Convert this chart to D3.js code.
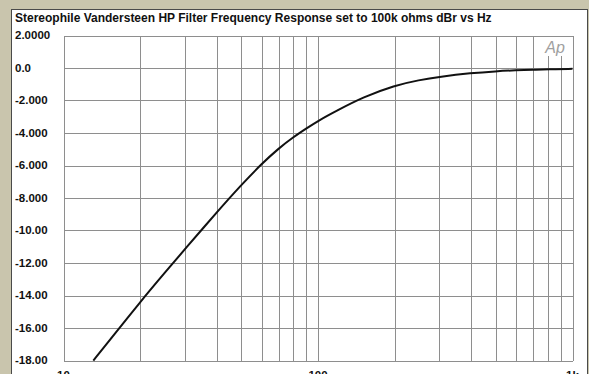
<!DOCTYPE html>
<html>
<head>
<style>
  body { margin: 0; background: #c9c5ad; }
  svg { display: block; font-family: "Liberation Sans", Arial, sans-serif; }
  .grid line { stroke: #8e8e8e; stroke-width: 1px; shape-rendering: crispEdges; }
  .lbl { font-size: 11.5px; font-weight: bold; fill: #111; }
</style>
</head>
<body>
<div id="chart"></div>
<script src="https://d3js.org/d3.v7.min.js"></script>
<script>
// frequency response (Hz, dBr)
var freqs = [13.1, 15, 20, 25, 30, 40, 50, 60, 70, 80, 90, 100, 120, 150, 200, 250, 300, 400, 500, 600, 700, 800, 1000];
var dbr = [-18.0, -16.85, -14.4, -12.6, -11.15, -8.88, -7.19, -5.9, -4.95, -4.25, -3.72, -3.25, -2.58, -1.8, -1.07, -0.74, -0.54, -0.31, -0.2, -0.14, -0.11, -0.08, -0.05];

var yTicks = [2, 0, -2, -4, -6, -8, -10, -12, -14, -16, -18];
var yTickLabels = ["2.0000", "0.0", "-2.000", "-4.000", "-6.000", "-8.000", "-10.00", "-12.00", "-14.00", "-16.00", "-18.00"];
var xGrid = [10, 20, 30, 40, 50, 60, 70, 80, 90, 100, 200, 300, 400, 500, 600, 700, 800, 900, 1000];
var xTicks = [10, 100, 1000];
var xTickLabels = ["10", "100", "1k"];

var W = 589, H = 374;
var svg = d3.select("#chart").append("svg").attr("width", W).attr("height", H);

// white panel
svg.append("rect")
  .attr("x", 11.5).attr("y", 9.5)
  .attr("width", 576).attr("height", H)
  .attr("fill", "#fff").attr("stroke", "#4a4a4a").attr("stroke-width", 1);

svg.append("text")
  .attr("x", 15).attr("y", 22)
  .style("font-size", "12px").style("font-weight", "bold").style("fill", "#111")
  .text("Stereophile Vandersteen HP Filter Frequency Response set to 100k ohms dBr vs Hz");

var x = d3.scaleLog().domain([10, 1000]).range([63.5, 572.5]);
var y = d3.scaleLinear().domain([2, -18]).range([35.5, 360.5]);

var g = svg.append("g").attr("class", "grid");
g.selectAll(".h").data(yTicks).enter().append("line")
  .attr("x1", x(10)).attr("x2", x(1000))
  .attr("y1", function (d) { return Math.round(y(d)) + 0.5; })
  .attr("y2", function (d) { return Math.round(y(d)) + 0.5; });
g.selectAll(".v").data(xGrid).enter().append("line")
  .attr("x1", function (d) { return Math.round(x(d)) + 0.5; })
  .attr("x2", function (d) { return Math.round(x(d)) + 0.5; })
  .attr("y1", y(2)).attr("y2", y(-18));

// Ap logo box
svg.append("rect").attr("x", 540).attr("y", 37).attr("width", 32).attr("height", 19).attr("fill", "#fff");
svg.append("text")
  .attr("x", 555).attr("y", 53).attr("text-anchor", "middle")
  .style("font-size", "16px").style("font-style", "italic").style("fill", "#a0a0a0")
  .text("Ap");

svg.selectAll(".yl").data(yTicks).enter().append("text")
  .attr("class", "lbl")
  .attr("x", 15)
  .attr("y", function (d) { return y(d) + 3.5; })
  .text(function (d, i) { return yTickLabels[i]; });

svg.selectAll(".xl").data(xTicks).enter().append("text")
  .attr("class", "lbl")
  .attr("x", function (d) { return x(d); })
  .attr("y", 379)
  .attr("text-anchor", "middle")
  .text(function (d, i) { return xTickLabels[i]; });

var line = d3.line()
  .x(function (d, i) { return x(freqs[i]); })
  .y(function (d) { return y(d); })
  .curve(d3.curveBasis);

svg.append("path")
  .datum(dbr)
  .attr("d", line)
  .attr("fill", "none")
  .attr("stroke", "#111")
  .attr("stroke-width", 2);
</script>
</body>
</html>
